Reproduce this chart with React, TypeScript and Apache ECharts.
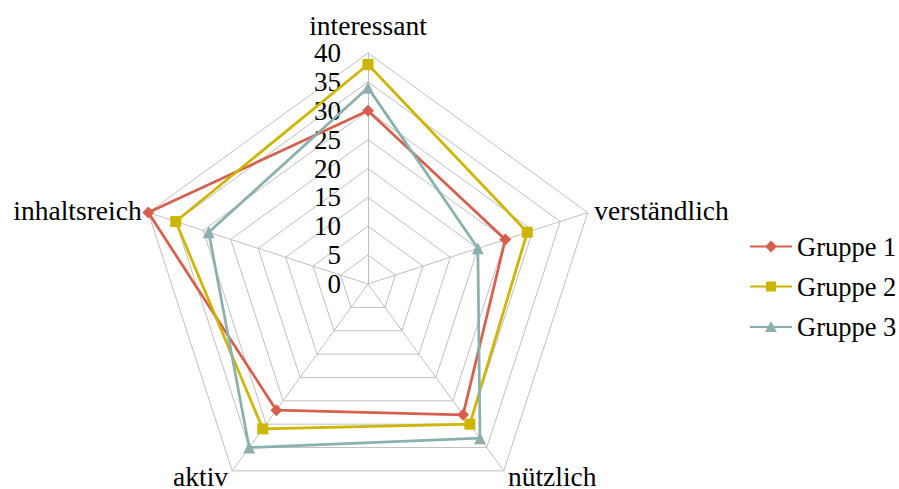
import React, { useEffect, useRef } from "react";
import * as echarts from "echarts";

const indicators = ["interessant", "inhaltsreich", "aktiv", "nützlich", "verständlich"];
const gruppe1 = [30, 40, 27, 28, 25];
const gruppe2 = [38, 35, 31, 30, 29];
const gruppe3 = [34, 29, 35, 33, 20];
const seriesNames = ["Gruppe 1", "Gruppe 2", "Gruppe 3"];
const colors = ["#D6604D", "#CDB500", "#8CAFAF"];
const symbols = ["diamond", "rect", "triangle"];
const maxValue = 40;

const legendIcons = [
  "path://M0,5 H42 V7 H0 Z M21,0 L27,6 L21,12 L15,6 Z",
  "path://M0,5 H42 V7 H0 Z M16,1 H26 V11 H16 Z",
  "path://M0,5 H42 V7 H0 Z M21,0 L27,11 L15,11 Z",
];

export default function App() {
  const ref = useRef<HTMLDivElement>(null);
  useEffect(() => {
    if (!ref.current) return;
    const chart = echarts.init(ref.current, null, { renderer: "svg" });
    const font = "Times New Roman, Liberation Serif, serif";
    const data = [gruppe1, gruppe2, gruppe3];
    chart.setOption({
      animation: false,
      textStyle: { fontFamily: font },
      legend: {
        orient: "vertical",
        left: 745,
        top: 228,
        itemGap: 13,
        itemWidth: 42,
        itemHeight: 12,
        textStyle: { fontFamily: font, fontSize: 26.5, color: "#000" },
        data: seriesNames.map((name, i) => ({ name, icon: legendIcons[i] })),
      },
      radar: {
        center: [368, 284],
        radius: 231,
        startAngle: 90,
        splitNumber: 8,
        shape: "polygon",
        nameGap: 7,
        axisName: { color: "#000", fontFamily: font, fontSize: 27.5 },
        splitLine: { lineStyle: { color: "#bfbfbf", width: 1 } },
        splitArea: { show: false },
        axisLine: { lineStyle: { color: "#bfbfbf", width: 1 } },
        axisTick: { show: false },
        axisLabel: { show: false },
        indicator: indicators.map((name, i) =>
          i === 0
            ? {
                name,
                min: 0,
                max: maxValue,
                axisLabel: { show: true, color: "#000", fontFamily: font, fontSize: 27, margin: 27 },
              }
            : { name, min: 0, max: maxValue }
        ),
      },
      series: [
        {
          type: "radar",
          data: seriesNames.map((name, i) => ({
            name,
            value: data[i],
            symbol: symbols[i],
            symbolSize: i === 1 ? 11 : 12,
            itemStyle: { color: colors[i] },
            lineStyle: { color: colors[i], width: 2.75 },
          })),
        },
      ],
    });
    return () => chart.dispose();
  }, []);
  return (
    <div
      ref={ref}
      style={{ position: "fixed", left: 0, top: 0, width: 899, height: 489, background: "#fff" }}
    />
  );
}
